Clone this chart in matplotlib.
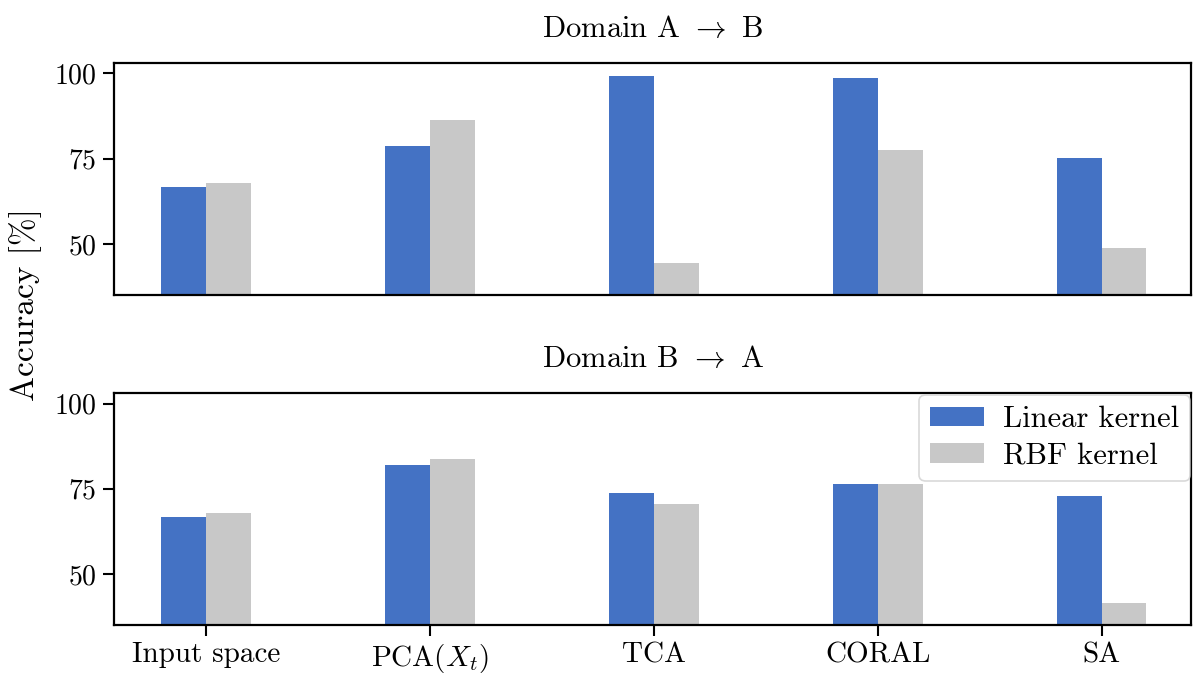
import numpy as np
import matplotlib
matplotlib.use("Agg")
import matplotlib.pyplot as plt

plt.rcParams["font.family"] = ["cmr10"]
plt.rcParams["mathtext.fontset"] = "cm"
plt.rcParams["axes.formatter.use_mathtext"] = True
plt.rcParams["axes.unicode_minus"] = False

methods = ["Input space", r"PCA($X_t$)", "TCA", "CORAL", "SA"]
series_names = ["Linear kernel", "RBF kernel"]
colors = ["#4472c4", "#c8c8c8"]

acc_ab_linear = [66.6, 78.6, 99.2, 98.6, 75.1]
acc_ab_rbf = [68.0, 86.3, 44.5, 77.5, 48.9]
acc_ba_linear = [66.6, 81.9, 73.6, 76.3, 73.0]
acc_ba_rbf = [68.0, 83.6, 70.4, 76.3, 41.6]

titles = [r"Domain A $\rightarrow$ B", r"Domain B $\rightarrow$ A"]
yticks = [50, 75, 100]

fig = plt.figure(figsize=(11.93, 6.73), dpi=100)
ax_top = fig.add_axes([0.0958, 0.5617, 0.9027, 0.3443])
ax_bot = fig.add_axes([0.0958, 0.0713, 0.9027, 0.3443])

x = np.arange(len(methods))
width = 0.2
fs_tick = 20
fs_text = 21

for ax, lin, rbf, title in [(ax_top, acc_ab_linear, acc_ab_rbf, titles[0]),
                            (ax_bot, acc_ba_linear, acc_ba_rbf, titles[1])]:
    ax.bar(x - width / 2, lin, width, color=colors[0], label=series_names[0])
    ax.bar(x + width / 2, rbf, width, color=colors[1], label=series_names[1])
    ax.set_ylim(35, 103)
    ax.set_xlim(-0.41, 4.4)
    ax.set_yticks(yticks)
    ax.set_xticks(x)
    ax.tick_params(axis="y", labelsize=fs_tick, length=8, width=1.5, pad=5)
    ax.tick_params(axis="x", labelsize=fs_text, length=8, width=1.5, pad=4)
    for s in ax.spines.values():
        s.set_linewidth(1.6)
    ax.set_title(title, fontsize=22, pad=19)

ax_top.set_xticklabels([])
ax_top.tick_params(axis="x", length=0)
ax_bot.set_xticklabels(methods)

leg = ax_bot.legend(loc="upper right", fontsize=22, frameon=True, fancybox=True,
                    borderaxespad=0.05, handlelength=1.76, handleheight=0.62,
                    labelspacing=0.3, borderpad=0.36, handletextpad=0.6)
leg.get_frame().set_edgecolor("#d0d0d0")
leg.get_frame().set_linewidth(1.2)

fig.text(0.021, 0.548, "Accuracy [%]", rotation=90, fontsize=24,
         ha="center", va="center")

fig.savefig("out.png", dpi=100)
